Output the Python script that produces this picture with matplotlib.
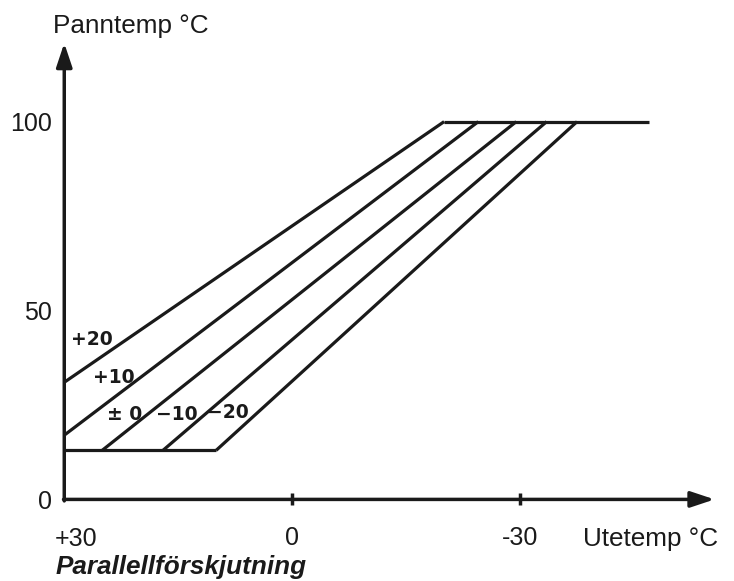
import matplotlib
matplotlib.use("Agg")
import matplotlib.pyplot as plt

# ---- data ----
shift_labels = ['+20', '+10', '± 0', '−10', '−20']
curve_x_low = [30, 30, 25, 17, 10]          # outdoor temp where curve starts (low end)
curve_y_low = [31, 17, 13, 13, 13]          # boiler temp at low end
curve_x_high = [-20, -24.5, -29.5, -33.5, -37.5]  # outdoor temp where curve reaches max
curve_y_high = [100, 100, 100, 100, 100]

floor_x = [30, 10]
floor_y = [13, 13]
ceiling_x = [-20, -47]
ceiling_y = [100, 100]

label_x = [26.4, 23.5, 22.1, 15.2, 8.5]
label_y = [42.2, 32.4, 22.6, 22.6, 22.9]

x_ticks = [0, -30]
x_ticklabels = ['0', '-30']
y_ticks = [0, 50, 100]
y_ticklabels = ['0', '50', '100']

INK = '#1a1a1a'
FONT = 'Liberation Sans'
NUM_FS = 18
TXT_FS = 18.8

fig = plt.figure(figsize=(7.34, 5.81), dpi=100)
ax = fig.add_axes([0, 0, 1, 1])
ax.patch.set_visible(False)
ax.set_xlim(38.46, -58.16)
ax.set_ylim(-21.6, 132.2)

# axes: spines only carry the ticks, the visible axis lines are arrows
for s in ('top', 'right'):
    ax.spines[s].set_visible(False)
ax.spines['left'].set_position(('data', 30))
ax.spines['bottom'].set_position(('data', 0))
for s in ('left', 'bottom'):
    ax.spines[s].set_color('none')

arrow_style = '-|>,head_length=0.6,head_width=0.2'
ax.annotate('', xy=(30, 120.8), xytext=(30, -0.4),
            arrowprops=dict(arrowstyle=arrow_style, mutation_scale=24,
                            lw=2.5, color=INK, shrinkA=0, shrinkB=0))
ax.annotate('', xy=(-55.6, 0), xytext=(30.1, 0),
            arrowprops=dict(arrowstyle=arrow_style, mutation_scale=24,
                            lw=2.5, color=INK, shrinkA=0, shrinkB=0))

ax.set_xticks(x_ticks)
ax.set_xticklabels(x_ticklabels, fontfamily=FONT, fontsize=NUM_FS, color=INK)
ax.set_yticks(y_ticks)
ax.set_yticklabels(y_ticklabels, fontfamily=FONT, fontsize=NUM_FS, color=INK)
ax.tick_params(axis='x', direction='inout', length=9, width=2.5, color=INK, pad=15)
ax.tick_params(axis='y', length=0, pad=9)

# curves
lw = 2.3
ax.plot(floor_x, floor_y, color=INK, lw=lw, solid_capstyle='butt')
ax.plot(ceiling_x, ceiling_y, color=INK, lw=lw, solid_capstyle='butt')
for x0, y0, x1, y1 in zip(curve_x_low, curve_y_low, curve_x_high, curve_y_high):
    ax.plot([x0, x1], [y0, y1], color=INK, lw=lw, solid_capstyle='butt')

for t, lx, ly in zip(shift_labels, label_x, label_y):
    ax.text(lx, ly, t, ha='center', va='center', fontsize=13.5,
            fontweight='bold', family=['DejaVu Sans'], color=INK)

# texts
ax.text(28.5, -10.6, '+30', ha='center', va='center', fontsize=NUM_FS,
        family=[FONT], color=INK)
ax.text(-38.25, -10.6, 'Utetemp °C', ha='left', va='center', fontsize=TXT_FS,
        family=[FONT], color=INK)
ax.text(31.2, -17.9, 'Parallellförskjutning', ha='left', va='center',
        fontsize=TXT_FS, family=[FONT], fontweight='bold', fontstyle='italic',
        color=INK)
ax.text(31.5, 125.4, 'Panntemp °C', ha='left', va='center', fontsize=TXT_FS,
        family=[FONT], color=INK)

fig.savefig('out.png', dpi=100)
